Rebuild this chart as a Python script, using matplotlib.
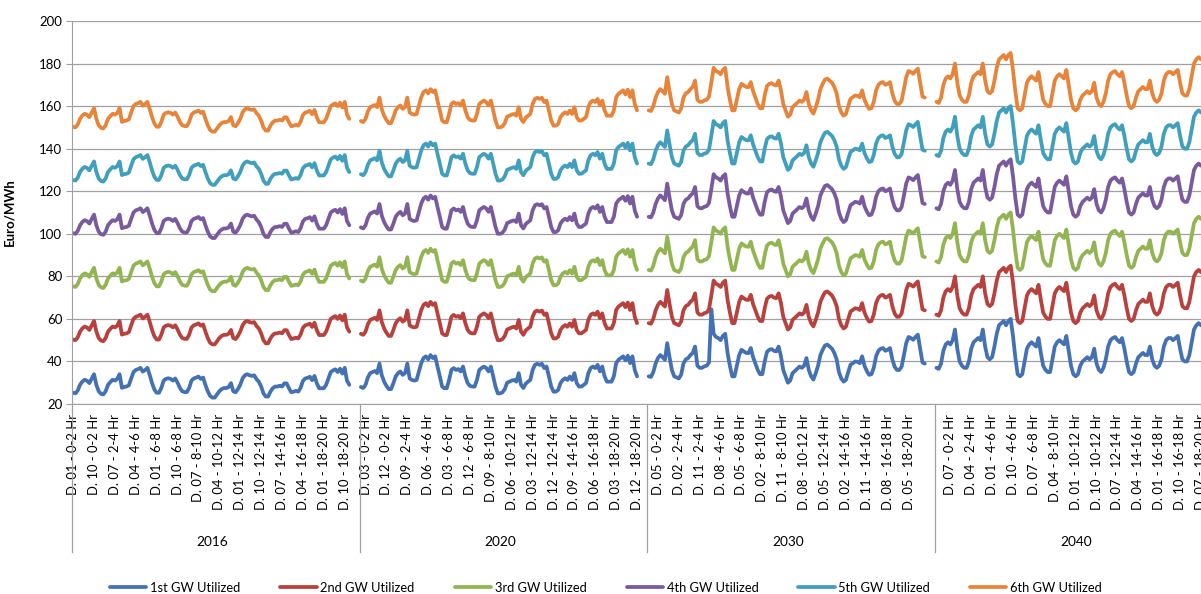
import numpy as np
import matplotlib.pyplot as plt

plt.rcParams['font.family'] = ['Lato', 'DejaVu Sans']

years = ['2016', '2020', '2030', '2040']
days = ['01', '02', '03', '04', '05', '06', '07', '08', '09', '10', '11', '12']
hours = ['0-2', '2-4', '4-6', '6-8', '8-10', '10-12', '12-14', '14-16', '16-18', '18-20']

series_names = ['1st GW Utilized', '2nd GW Utilized', '3rd GW Utilized',
                '4th GW Utilized', '5th GW Utilized', '6th GW Utilized']
series_colors = ['#4371b3', '#b8413e', '#93b551', '#7a5a9e', '#3f9fbd', '#e8843a']
# each further GW sits about 25 Euro/MWh above the previous one
series_offset = [0, 25, 50, 75, 100, 125]

# 1st GW price, 10 hour blocks x 12 days per year
base_2016 = [25.3, 25, 26.4, 29.1, 30.6, 31.4, 30.9, 29.8, 32, 34, 29, 26,
             24.8, 24.5, 26, 29, 30.3, 31.4, 31, 31.8, 34, 27.6, 28, 28.2,
             28.8, 32, 35, 36, 36.4, 37, 35.2, 36, 37, 33.6, 29.8, 26.8,
             25.3, 25.3, 27.6, 31, 31.8, 32.1, 31.8, 31, 32, 30, 27.6, 26,
             25.6, 25.6, 27.6, 31, 32, 32.4, 32.9, 31.8, 32.4, 29, 26, 23.8,
             23, 23, 24.5, 26, 27, 27.5, 27.5, 28, 29.8, 26, 25.5, 27,
             29, 32, 33.5, 34, 33.5, 33.2, 33.5, 31.7, 30.5, 28.2, 25, 23.5,
             23.5, 25.8, 27.4, 28.2, 28.2, 28.6, 28.2, 29.7, 29.7, 27.4, 25.5, 25.8,
             26.2, 25.8, 27.6, 30.8, 32, 32.3, 32.8, 31.2, 33.2, 29.7, 27.4, 27.4,
             27.4, 29, 32, 35, 35.8, 36.3, 35, 36.6, 34.3, 37, 31, 29]
base_2020 = [28, 27.5, 29, 32.5, 34.5, 35, 35.5, 34.5, 39, 33.5, 30.5, 28.5,
             27, 27, 29.8, 33, 34.5, 35.3, 33.7, 34.5, 39, 32, 31.3, 31,
             31.3, 35.3, 39.2, 41.6, 42.4, 41, 43, 41.6, 42.4, 37.6, 33, 28.2,
             27.4, 27.4, 31.3, 36, 36.9, 36, 36.4, 35.3, 37.6, 33, 29.8, 28.5,
             28.2, 28.2, 31.3, 36, 36.9, 37.6, 36.9, 35.3, 37.6, 33, 28.2, 25,
             25, 25.5, 27, 30, 30.5, 31, 31.3, 30.5, 34.5, 29, 27.5, 29.5,
             30.5, 31.3, 36, 38.4, 38.9, 38.4, 38.9, 36.9, 37.6, 33, 28.2, 25.8,
             25.8, 26.6, 29.8, 31.3, 32.1, 31.3, 32.9, 31.3, 34.5, 29.8, 28.2, 28.2,
             29, 29.8, 34.5, 36.9, 37.6, 36.9, 38.4, 35.3, 37.6, 33, 30.5, 30.5,
             30.5, 33, 39.2, 40.8, 41.6, 42.4, 40.5, 42.7, 39.2, 42.4, 36, 33]
base_2030 = [33, 32.7, 35, 39, 41.6, 43, 42, 40.8, 48.6, 42, 36, 33,
             32.5, 32, 33.8, 39, 41, 41.6, 43, 44, 47, 38, 37, 37,
             37.7, 38, 39.5, 46, 53, 51.5, 51, 50, 52, 53, 44, 38,
             33, 33, 38, 43, 45.5, 44.7, 44, 43.9, 46.3, 42, 39, 36,
             34, 34, 40, 44.5, 45.5, 45.8, 45, 44.7, 47, 42.5, 36, 33,
             30, 31, 34.5, 35.5, 36.5, 37.6, 37, 38, 41.6, 36, 33, 31.5,
             34.5, 38, 43, 45.5, 47.5, 47.9, 47, 46, 44, 41, 35, 32,
             30.5, 31.3, 35, 38.5, 39.2, 40, 39.8, 39.2, 42.4, 38, 35.5, 33.7,
             34, 37, 42.4, 45, 46, 46.3, 45, 45.5, 46.3, 41, 37.5, 36,
             36, 37.5, 43, 48.7, 51.5, 51, 50.2, 51.5, 52.6, 46, 39.5, 39]
base_2040 = [37, 36.5, 39, 45, 48, 49, 48, 50, 55, 46, 40, 38,
             37, 37, 40, 46, 49, 50, 51, 50, 55, 47, 42, 41,
             42, 47, 53, 57, 58, 59, 57, 59, 60, 52, 42, 34,
             33, 34, 40, 46, 48, 49, 48, 47, 51, 44, 38, 36,
             35, 35, 41, 47, 49, 50, 49, 48, 52, 45, 38, 34,
             33, 34, 38, 40, 41, 42, 41, 42, 46, 39, 36, 35,
             37, 41, 47, 50, 51, 51.5, 50, 49, 51, 46, 40, 35,
             34, 35, 39, 42, 43, 44, 43, 43, 47, 41, 38, 37,
             38, 41, 47, 50, 51, 51, 50, 51, 52, 46, 41, 40,
             40, 43, 49, 55, 57, 58, 57, 58, 60, 54, 47, 45]
base = [base_2016, base_2020, base_2030, base_2040]
# single price spike of the 1st GW only (year, point, value)
spike_1st = [('2030', 27, 64.5)]

n_pts = len(days) * len(hours)
n_cat = n_pts + 4          # excel leaves 4 empty categories after each year

fig = plt.figure(figsize=(12.01, 5.94), dpi=100)
ax = fig.add_axes([72 / 1201, 1 - 404 / 594, 1151 / 1201, 383 / 594])

for yi, yr in enumerate(years):
    x = yi * n_cat + np.arange(n_pts)
    for si, name in enumerate(series_names):
        vals = np.array(base[yi], dtype=float) + series_offset[si]
        if si == 0:
            for sy, idx, v in spike_1st:
                if sy == yr:
                    vals[idx] = v
        ax.plot(x, vals, color=series_colors[si], lw=2.7,
                solid_joinstyle='round', solid_capstyle='round',
                label=name if yi == 0 else None)

ax.set_xlim(-0.5, len(years) * n_cat - 0.5)
ax.set_ylim(20, 200)
ax.set_yticks(np.arange(20, 201, 20))
ax.grid(axis='y', color='#a0a0a0', lw=0.9)
ax.set_axisbelow(True)
for s in ['top', 'right']:
    ax.spines[s].set_visible(False)
ax.spines['left'].set_color('#a0a0a0')
ax.spines['bottom'].set_color('#a0a0a0')
ax.tick_params(axis='y', length=4, color='#a0a0a0', labelsize=9.5, pad=3)

# category labels, every 9th category
pos, labs = [], []
for k in range(0, len(years) * n_cat, 9):
    i = k % n_cat
    if i < n_pts:
        pos.append(k)
        labs.append('D. ' + days[i % 12] + ' - ' + hours[i // 12] + ' Hr')
ax.set_xticks(pos)
ax.set_xticklabels(labs, rotation=90, fontsize=9.4)
ax.tick_params(axis='x', length=0, pad=7)

trans = ax.get_xaxis_transform()
for yi, yr in enumerate(years + ['']):
    ax.plot([yi * n_cat - 0.5] * 2, [0, -0.386], color='#a0a0a0', lw=0.9,
            transform=trans, clip_on=False)
for yi, yr in enumerate(years):
    ax.text(yi * n_cat + n_pts / 2, -0.360, yr, transform=trans,
            ha='center', va='center', fontsize=9.8)

ax.set_ylabel('Euro/MWh', fontsize=9.5, fontweight='bold')
ax.yaxis.set_label_coords(-57 / 1151, 0.5)

fig.legend(loc='center', bbox_to_anchor=(606 / 1201, 1 - 588 / 594), ncol=6,
           frameon=False, fontsize=9.3, handlelength=2.8, handletextpad=0.3,
           columnspacing=3.1)

fig.savefig('out.png', dpi=100)
